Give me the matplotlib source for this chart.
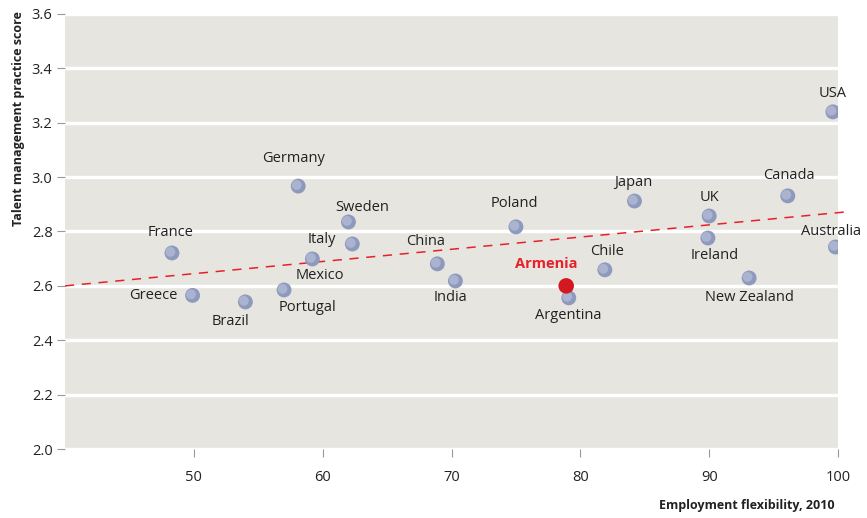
import numpy as np
import matplotlib.pyplot as plt

plt.rcParams['font.family'] = ['Open Sans', 'DejaVu Sans']

countries = ['France', 'Greece', 'Brazil', 'Portugal', 'Mexico', 'Germany',
             'Sweden', 'Italy', 'China', 'India', 'Poland', 'Argentina',
             'Japan', 'Chile', 'UK', 'Ireland', 'New Zealand', 'Canada',
             'USA', 'Australia']
flexibility = [48.3, 49.9, 54.0, 57.0, 59.2, 58.1,
               62.0, 62.3, 68.9, 70.3, 75.0, 79.1,
               84.2, 81.9, 90.0, 89.9, 93.1, 96.1,
               99.6, 99.8]
talent_score = [2.721, 2.565, 2.541, 2.585, 2.699, 2.967,
                2.835, 2.754, 2.681, 2.618, 2.817, 2.556,
                2.912, 2.659, 2.857, 2.776, 2.629, 2.931,
                3.240, 2.743]

armenia_x = 78.9
armenia_y = 2.600

trend_x = [40, 100.6]
trend_y = [2.600, 2.872]

# label offsets in pixels (dx, dy, ha)
offsets = {
    'France': (-1, 20, 'center'),
    'Greece': (-15, 0, 'right'),
    'Brazil': (-15, -20, 'center'),
    'Portugal': (23, -18, 'center'),
    'Mexico': (7, -17, 'center'),
    'Germany': (-5, 28, 'center'),
    'Sweden': (14, 14, 'center'),
    'Italy': (-30, 5, 'center'),
    'China': (-12, 22, 'center'),
    'India': (-5, -17, 'center'),
    'Poland': (-2, 23, 'center'),
    'Argentina': (-1, -18, 'center'),
    'Japan': (-1, 19, 'center'),
    'Chile': (2, 18, 'center'),
    'UK': (0, 18, 'center'),
    'Ireland': (7, -17, 'center'),
    'New Zealand': (0, -20, 'center'),
    'Canada': (1, 20, 'center'),
    'USA': (0, 18, 'center'),
    'Australia': (-4, 15, 'center'),
}

fig = plt.figure(figsize=(8.67, 5.18), dpi=100)
ax = fig.add_axes([0.075, 0.1332, 0.8916, 0.8398])
ax.set_facecolor('#e6e5df')

ax.set_xlim(40, 100)
ax.set_ylim(2.0, 3.6)
ax.set_xticks([50, 60, 70, 80, 90, 100])
ax.set_yticks(np.arange(2.0, 3.61, 0.2))
ax.yaxis.set_major_formatter(plt.FormatStrFormatter('%.1f'))
ax.grid(axis='y', color='white', linewidth=2.5)
ax.set_axisbelow(True)
for s in ax.spines.values():
    s.set_visible(False)
ax.tick_params(axis='x', length=6, color='#999999', pad=9, labelsize=10.5,
               labelcolor='#222222')
ax.tick_params(axis='y', length=6, color='#999999', pad=3, labelsize=10.5,
               labelcolor='#222222')

# trend line
ax.plot(trend_x, trend_y, color='#e8202a', linestyle=(0, (6, 5)),
        linewidth=1.1, clip_on=False, zorder=2)

# points with a little shading
ax.scatter(flexibility, talent_score, s=115, color='#8e9abd', zorder=3,
           edgecolors='none')
ax.scatter(np.array(flexibility) - 0.12, np.array(talent_score) + 0.004,
           s=50, color='#aab4d0', zorder=4, edgecolors='none')

ax.scatter([armenia_x], [armenia_y], s=125, color='#d31820', zorder=5,
           edgecolors='none')

for name, x, y in zip(countries, flexibility, talent_score):
    dx, dy, ha = offsets[name]
    ax.annotate(name, (x, y), xytext=(dx, dy), textcoords='offset pixels',
                ha=ha, va='center', fontsize=10.5, color='#222222')

ax.annotate('Armenia', (armenia_x, armenia_y), xytext=(-20, 22),
            textcoords='offset pixels', ha='center', va='center',
            fontsize=10.5, color='#e8202a', fontweight='bold')

fig.text(0.021, 0.772, 'Talent management practice score', rotation=90,
         ha='center', va='center', fontsize=9, fontweight='bold',
         color='#222222')
fig.text(0.963, 0.025, 'Employment flexibility, 2010', ha='right',
         va='center', fontsize=9, fontweight='bold', color='#222222')

fig.savefig('out.png', dpi=100)
